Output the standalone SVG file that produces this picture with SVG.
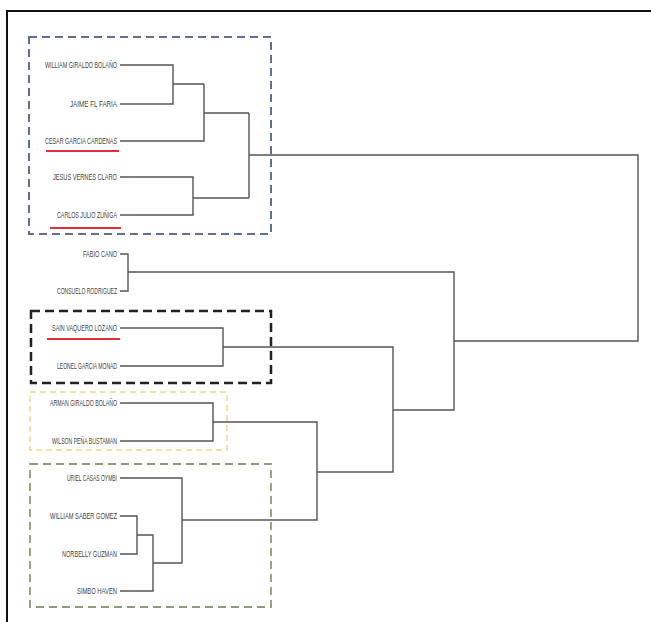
<svg xmlns="http://www.w3.org/2000/svg" width="651" height="622" viewBox="0 0 651 622">
<style>
.lbl{font-family:"Liberation Sans",Arial,sans-serif;font-size:9px;fill:#444;text-anchor:end}
.c{fill:none;stroke:#555;stroke-width:1.4}
.ul{stroke:#e0303a;stroke-width:2}
.box{fill:none}
</style>
<rect x="0" y="0" width="651" height="622" fill="#fff"/>
<rect x="7" y="11" width="660" height="630" fill="none" stroke="#111" stroke-width="2"/>
<g id="boxes">
<rect id="box-blue" class="box" x="29" y="37" width="242" height="197" stroke="#5e6f92" stroke-width="2" stroke-dasharray="8,5"/>
<rect id="box-black" class="box" x="31" y="311" width="240" height="72" stroke="#222" stroke-width="2.5" stroke-dasharray="9,5"/>
<rect id="box-yellow" class="box" x="30" y="392" width="197" height="58" stroke="#eed98a" stroke-width="1.5" stroke-dasharray="6,4"/>
<rect id="box-green" class="box" x="30" y="464" width="241" height="143" stroke="#8d9c78" stroke-width="1.8" stroke-dasharray="8,5"/>
</g>
<g id="leaf1"><text class="lbl" x="117" y="68" textLength="72" lengthAdjust="spacingAndGlyphs">WILLIAM GIRALDO BOLAÑO</text></g>
<g id="leaf2"><text class="lbl" x="117" y="107" textLength="47" lengthAdjust="spacingAndGlyphs">JAIME FL FARIA</text></g>
<g id="leaf3"><text class="lbl" x="117" y="144" textLength="72" lengthAdjust="spacingAndGlyphs">CESAR GARCIA CARDENAS</text><line class="ul" x1="46" y1="151" x2="119" y2="151"/></g>
<g id="leaf4"><text class="lbl" x="117" y="180" textLength="64" lengthAdjust="spacingAndGlyphs">JESUS VERNES CLARO</text></g>
<g id="leaf5"><text class="lbl" x="117" y="218" textLength="60" lengthAdjust="spacingAndGlyphs">CARLOS JULIO ZUÑIGA</text><line class="ul" x1="50" y1="228" x2="121" y2="228"/></g>
<g id="leaf6"><text class="lbl" x="117" y="257" textLength="34" lengthAdjust="spacingAndGlyphs">FABIO CANO</text></g>
<g id="leaf7"><text class="lbl" x="117" y="294" textLength="60" lengthAdjust="spacingAndGlyphs">CONSUELO RODRIGUEZ</text></g>
<g id="leaf8"><text class="lbl" x="117" y="331" textLength="65" lengthAdjust="spacingAndGlyphs">SAIN VAQUERO LOZANO</text><line class="ul" x1="47" y1="339" x2="120" y2="339"/></g>
<g id="leaf9"><text class="lbl" x="117" y="369" textLength="60" lengthAdjust="spacingAndGlyphs">LEONEL GARCIA MONAD</text></g>
<g id="leaf10"><text class="lbl" x="117" y="406" textLength="67" lengthAdjust="spacingAndGlyphs">ARMAN GIRALDO BOLAÑO</text></g>
<g id="leaf11"><text class="lbl" x="117" y="444" textLength="65" lengthAdjust="spacingAndGlyphs">WILSON PEÑA BUSTAMAN</text></g>
<g id="leaf12"><text class="lbl" x="117" y="481" textLength="50" lengthAdjust="spacingAndGlyphs">URIEL CASAS OYMBI</text></g>
<g id="leaf13"><text class="lbl" x="117" y="519" textLength="67" lengthAdjust="spacingAndGlyphs">WILLIAM SABER GOMEZ</text></g>
<g id="leaf14"><text class="lbl" x="117" y="557" textLength="55" lengthAdjust="spacingAndGlyphs">NORBELLY GUZMAN</text></g>
<g id="leaf15"><text class="lbl" x="117" y="594" textLength="40" lengthAdjust="spacingAndGlyphs">SIMBO HAVEN</text></g>
<g id="connectors">
<path class="c" d="M120,65H173V104H120M173,84H204M120,141H204V84M204,113H249"/>
<path class="c" d="M120,177H193V215H120M193,198H249M249,113V198"/>
<path class="c" d="M249,155H638V341H454"/>
<path class="c" d="M120,254H128V291H120M128,272H454V410H393"/>
<path class="c" d="M120,328H223V366H120M223,347H393V472H317"/>
<path class="c" d="M120,403H213V441H120M213,422H317V520H182"/>
<path class="c" d="M120,478H182V563H153M120,516H137V554H120M137,535H153V591H120"/>
</g>
</svg>
